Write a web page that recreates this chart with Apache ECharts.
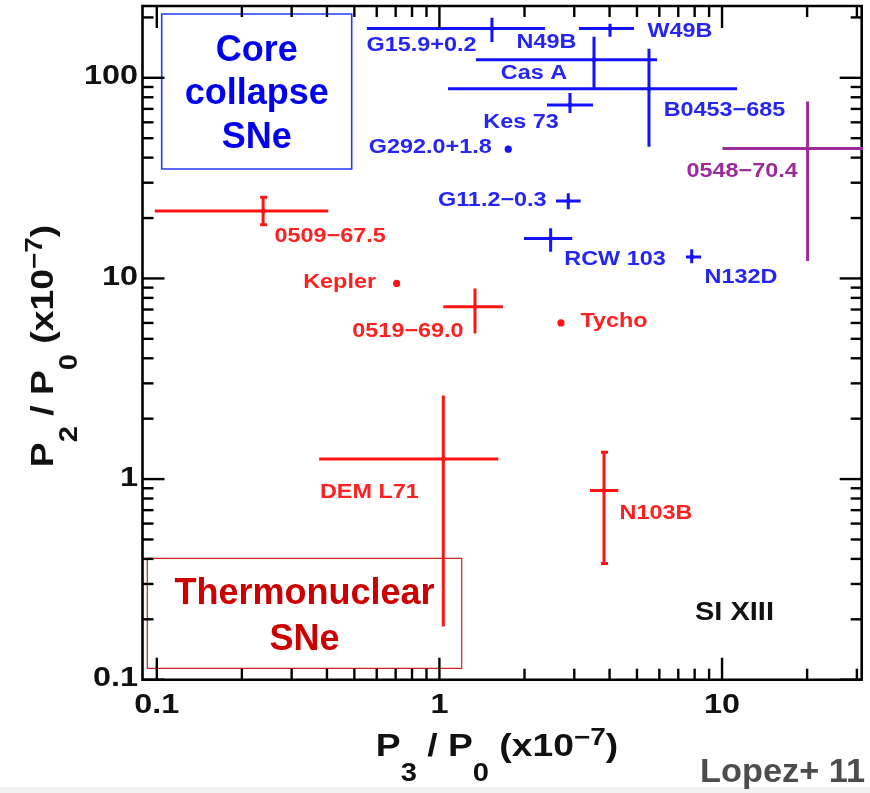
<!DOCTYPE html>
<html><head><meta charset="utf-8">
<script src="https://cdn.jsdelivr.net/npm/echarts@6/dist/echarts.min.js"></script>
<style>html,body{margin:0;padding:0;background:#fff}#c{width:870px;height:793px}</style>
</head><body><div id="c"></div>
<script>
// ---------------- data ----------------
const names  = ['G15.9+0.2','W49B','N49B','B0453\u2212685','Kes 73','G292.0+1.8','G11.2\u22120.3','RCW 103','N132D','0548\u221270.4','0509\u221267.5','Kepler','0519\u221269.0','Tycho','DEM L71','N103B'];
const groups = ['cc','cc','cc','cc','cc','cc','cc','cc','cc','mixed','ia','ia','ia','ia','ia','ia'];
const xVal = [1.534, 4.014, 3.523, 5.514, 2.897, 1.752, 2.857, 2.475, 7.81, 20.08, 0.2378, 0.7055, 1.336, 2.692, 1.032, 3.822];
const yVal = [176, 176, 123, 88.1, 73.3, 44.1, 24.3, 15.8, 12.8, 44.4, 21.7, 9.44, 7.22, 6.0, 1.26, 0.877];
const xLo  = [0.554, 3.117, 1.346, 1.072, 2.402, null, 2.585, 1.991, 7.456, 10.03, 0.0984, null, 1.032, null, 0.3754, 3.41];
const xHi  = [2.363, 4.88, 5.888, 11.30, 3.494, null, 3.161, 2.952, 8.425, 40, 0.4042, null, 1.678, null, 1.615, 4.295];
const yLo  = [151, 160, 88.1, 45.3, 66.8, null, 22.1, 13.6, 11.9, 12.2, 18.5, null, 5.31, null, 0.184, 0.380];
const yHi  = [199, 186, 160, 139.6, 84.1, null, 26.6, 17.8, 13.96, 76.1, 25.4, null, 8.92, null, 2.61, 1.36];

const xMajorTicks = [0.1, 1, 10];
const xTickLabels = ['0.1', '1', '10'];
const xMinorTicks = [0.2,0.3,0.4,0.5,0.6,0.7,0.8,0.9, 2,3,4,5,6,7,8,9, 20,30];
const yMajorTicks = [0.1, 1, 10, 100];
const yTickLabels = ['0.1', '1', '10', '100'];
const yMinorTicks = [0.2,0.3,0.4,0.5,0.6,0.7,0.8,0.9, 2,3,4,5,6,7,8,9, 20,30,40,50,60,70,80,90, 200];

// ---------------- style / layout ----------------
const FONT = "'Liberation Sans', Arial, Helvetica, sans-serif";
const LINE_COL = {cc:'#1212ff', ia:'#ff1414', mixed:'#9a2c9c'};
const TEXT_COL = {cc:'#2525f5', ia:'#ff2020', mixed:'#9a2c9c'};
const LABEL_OFFSETS = {
  'G15.9+0.2':[-70.5,17], 'W49B':[70,2.5], 'N49B':[-47.5,-17.5], 'B0453\u2212685':[75.5,22],
  'Kes 73':[-49,18], 'G292.0+1.8':[-78,-2], 'G11.2\u22120.3':[-76,-1], 'RCW 103':[64.3,21],
  'N132D':[49.3,20.6], '0548\u221270.4':[-65.5,23.3], '0509\u221267.5':[67,26], 'Kepler':[-57,-0.6],
  '0519\u221269.0':[-67,25], 'Tycho':[53,-1], 'DEM L71':[-74,34], 'N103B':[52,23]
};
const EXTRA_LABELS = [{text:'Cas A', anchor:'N49B', dx:-60, dy:13.3}];
const CAPPED = ['0509\u221267.5', 'N103B'];
const MAJOR_LEN = 22, MINOR_LEN = 11, TICK_W = 2.4;
const LABEL_SX = 1.17;

function txt(x, y, text, size, fill, align, vAlign, sx, lh) {
  const st = {
    text:text, fill:fill, fontSize:size, fontWeight:'bold', fontFamily:FONT,
    align:align, textAlign:align, verticalAlign:vAlign, textVerticalAlign:vAlign
  };
  if (lh) st.lineHeight = lh;
  return {type:'text', x:x, y:y, scaleX: sx || 1, style:st};
}

function renderXTick(params, api) {
  const cs = params.coordSys;
  const px = api.coord([api.value(0), 1])[0];
  const major = api.value(2) === 1;
  const len = major ? MAJOR_LEN : MINOR_LEN;
  const b = cs.y + cs.height, t = cs.y;
  const ch = [
    {type:'line', shape:{x1:px, y1:b, x2:px, y2:b - len}, style:{stroke:'#000', lineWidth:TICK_W}},
    {type:'line', shape:{x1:px, y1:t, x2:px, y2:t + len}, style:{stroke:'#000', lineWidth:TICK_W}}
  ];
  if (major) ch.push(txt(px, b + 26.3, xTickLabels[api.value(3)], 27, '#111', 'center', 'middle', 1.2));
  return {type:'group', children:ch};
}
function renderYTick(params, api) {
  const cs = params.coordSys;
  const py = api.coord([1, api.value(1)])[1];
  const major = api.value(2) === 1;
  const len = major ? MAJOR_LEN : MINOR_LEN;
  const l = cs.x, r = cs.x + cs.width;
  const ch = [
    {type:'line', shape:{x1:l, y1:py, x2:l + len, y2:py}, style:{stroke:'#000', lineWidth:TICK_W}},
    {type:'line', shape:{x1:r, y1:py, x2:r - len, y2:py}, style:{stroke:'#000', lineWidth:TICK_W}}
  ];
  if (major) ch.push(txt(l - 4.5, py - 1, yTickLabels[api.value(3)], 27, '#111', 'right', 'middle', 1.2));
  return {type:'group', children:ch};
}
function renderPoint(params, api) {
  const i = api.value(6);
  const name = names[i];
  const lc = LINE_COL[groups[i]], tc = TEXT_COL[groups[i]];
  const c = api.coord([api.value(0), api.value(1)]);
  const xl = api.coord([api.value(2), api.value(1)])[0];
  const xh = api.coord([api.value(3), api.value(1)])[0];
  const yl = api.coord([api.value(0), api.value(4)])[1];
  const yh = api.coord([api.value(0), api.value(5)])[1];
  const st = {stroke:lc, lineWidth:3};
  const ch = [];
  const hasErr = (xh - xl > 0.5) || (yl - yh > 0.5);
  if (xh - xl > 0.5) ch.push({type:'line', shape:{x1:xl, y1:c[1], x2:xh, y2:c[1]}, style:st});
  if (yl - yh > 0.5) {
    ch.push({type:'line', shape:{x1:c[0], y1:yl, x2:c[0], y2:yh}, style:st});
    if (CAPPED.indexOf(name) >= 0) {
      ch.push({type:'line', shape:{x1:c[0]-3, y1:yl, x2:c[0]+4, y2:yl}, style:st});
      ch.push({type:'line', shape:{x1:c[0]-3, y1:yh, x2:c[0]+4, y2:yh}, style:st});
    }
  }
  ch.push({type:'circle', shape:{cx:c[0], cy:c[1], r: hasErr ? 2.4 : 3.6}, style:{fill:lc}});
  const off = LABEL_OFFSETS[name];
  if (off) ch.push(txt(c[0] + off[0], c[1] + off[1], name, 20, tc, 'center', 'middle', LABEL_SX));
  EXTRA_LABELS.forEach(function (e) {
    if (e.anchor === name) ch.push(txt(c[0] + e.dx, c[1] + e.dy, e.text, 20, tc, 'center', 'middle', LABEL_SX));
  });
  return {type:'group', children:ch};
}

const xTickData = xMajorTicks.map(function (v, i) { return [v, 1, 1, i]; })
  .concat(xMinorTicks.map(function (v) { return [v, 1, 0, -1]; }));
const yTickData = yMajorTicks.map(function (v, i) { return [1, v, 1, i]; })
  .concat(yMinorTicks.map(function (v) { return [1, v, 0, -1]; }));
const pointData = names.map(function (n, i) {
  return [xVal[i], yVal[i],
    xLo[i] == null ? xVal[i] : xLo[i], xHi[i] == null ? xVal[i] : xHi[i],
    yLo[i] == null ? yVal[i] : yLo[i], yHi[i] == null ? yVal[i] : yHi[i], i];
});

// axis title built from measured pieces (main, subscript, superscript)
const measureCtx = document.createElement('canvas').getContext('2d');
function axisTitle(sub, cx, cy, rot) {
  const pieces = [
    {t:'P', size:32, dy:0}, {t:sub, size:25, dy:26.5}, {t:' / P', size:32, dy:0},
    {t:'0', size:25, dy:26.5}, {t:' (x10', size:32, dy:0}, {t:'\u22127', size:24, dy:-9},
    {t:')', size:32, dy:0}
  ];
  let total = 0;
  pieces.forEach(function (p) {
    measureCtx.font = 'bold ' + p.size + 'px ' + FONT;
    p.w = measureCtx.measureText(p.t).width;
    p.x = total; total += p.w;
  });
  const children = pieces.map(function (p) {
    return txt(p.x - total / 2, p.dy, p.t, p.size, '#111', 'left', 'middle', 1);
  });
  return {type:'group', x:cx, y:cy, rotation:rot, scaleX:1.165, children:children};
}

const chart = echarts.init(document.getElementById('c'), null, {renderer:'canvas'});
chart.setOption({
  animation:false,
  backgroundColor:'#fff',
  grid:{left:142.5, top:6, right:8.3, bottom:113.3, show:true, borderColor:'#000', borderWidth:2.6, backgroundColor:'transparent'},
  xAxis:{type:'log', logBase:10, min:0.089, max:31.2, axisLine:{show:false}, axisTick:{show:false}, axisLabel:{show:false}, splitLine:{show:false}},
  yAxis:{type:'log', logBase:10, min:0.1, max:228, axisLine:{show:false}, axisTick:{show:false}, axisLabel:{show:false}, splitLine:{show:false}},
  series:[
    {type:'custom', name:'xticks', data:xTickData, encode:{x:0, y:1}, renderItem:renderXTick, clip:false, silent:true, z:5},
    {type:'custom', name:'yticks', data:yTickData, encode:{x:0, y:1}, renderItem:renderYTick, clip:false, silent:true, z:5},
    {type:'custom', name:'points', data:pointData, encode:{x:0, y:1}, renderItem:renderPoint, clip:true, silent:true, z:3}
  ],
  graphic:[
    {type:'rect', shape:{x:0, y:787, width:870, height:6}, style:{fill:'#f2f2f2'}, z:-1},
    {type:'rect', shape:{x:161.7, y:14, width:190, height:155}, style:{fill:'transparent', stroke:'#1f3df5', lineWidth:1.6}},
    txt(256.7, 94.5, 'Core\ncollapse\nSNe', 36, '#0000ee', 'center', 'middle', 1, 43.6),
    {type:'rect', shape:{x:147.3, y:558.3, width:314.4, height:110}, style:{fill:'transparent', stroke:'#d42020', lineWidth:1.2}},
    txt(304.5, 617, 'Thermonuclear\nSNe', 36, '#cc0000', 'center', 'middle', 1, 46.5),
    txt(734.5, 613.5, 'SI XIII', 25, '#111', 'center', 'middle', 1.16),
    txt(865, 773, 'Lopez+ 11', 33, '#4d4d4d', 'right', 'middle', 1.04),
    axisTitle('3', 497, 747.5, 0),
    axisTitle('2', 44, 346, Math.PI / 2)
  ]
});
</script>
</body></html>
